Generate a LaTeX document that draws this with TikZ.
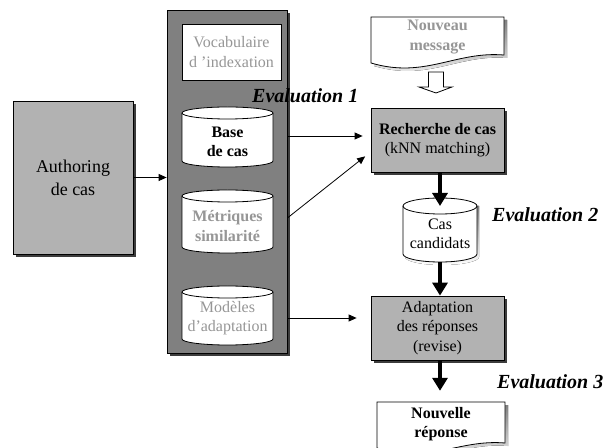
\documentclass[tikz,border=0pt]{standalone}
\usepackage{fontspec}
\setmainfont{Liberation Serif}
\usetikzlibrary{arrows.meta,calc,shadows}

\definecolor{boxgray}{RGB}{178,178,178}
\definecolor{panelgray}{RGB}{128,128,128}
\definecolor{softtext}{RGB}{150,150,150}
\definecolor{shade}{RGB}{60,60,60}

% cylinder outline: #1 centre x, #2 x radius, #3 top, #4 bottom, #5 y radius
\newcommand\dbcylinder[5]{%
  \filldraw[fill=white,line width=0.8pt]
    (#1-#2,#3-#5) -- (#1-#2,#4+#5)
    arc[start angle=180,end angle=360,x radius=#2,y radius=#5]
    -- (#1+#2,#3-#5)
    arc[start angle=0,end angle=180,x radius=#2,y radius=#5] -- cycle;
  \draw[line width=0.8pt] (#1-#2,#3-#5)
    arc[start angle=180,end angle=360,x radius=#2,y radius=#5];
}

\begin{document}
\begin{tikzpicture}[x=1pt,y=1pt,
  boxshadow/.style={drop shadow={shadow xshift=3pt,shadow yshift=-3pt,opacity=1,fill=shade}},
  procbox/.style={draw,line width=0.8pt,fill=boxgray,boxshadow,align=center,
    minimum width=133pt,minimum height=64pt,inner sep=0pt},
  txt/.style={align=center,inner sep=0pt,font=\fontsize{16}{19.5}\selectfont},
  evallabel/.style={anchor=base west,inner sep=0pt,font=\fontsize{20}{24}\selectfont\bfseries\itshape},
  thinarrow/.style={line width=0.8pt,-{Triangle[length=8pt,width=7pt]}},
  thickarrow/.style={line width=3.5pt,-{Triangle[length=13pt,width=15pt]}},
]
\useasboundingbox (0,0) rectangle (610,447);

% authoring block
\node[draw,line width=0.8pt,fill=boxgray,boxshadow,minimum width=120pt,minimum height=153pt,
  align=center,font=\fontsize{18}{23}\selectfont] (auth) at (73,269.5) {Authoring\\de cas};

% knowledge container
\node[draw,line width=0.8pt,fill=panelgray,boxshadow,minimum width=120pt,minimum height=343pt]
  (panel) at (227,265.5) {};

\node[draw,line width=0.8pt,fill=white,minimum width=99pt,minimum height=56pt,txt,
  text=softtext] (vocab) at (231.5,395) {Vocabulaire\\d 'indexation};

\dbcylinder{227.5}{45.5}{340}{280}{6}
\node[txt,font=\fontsize{16}{19.5}\selectfont\bfseries] (base) at (227.5,305) {Base\\de cas};

\dbcylinder{227.5}{45.5}{257}{194}{6}
\node[txt,font=\fontsize{16}{19.5}\selectfont\bfseries,text=softtext] (metr) at (227.5,221) {Métriques\\similarité};

\dbcylinder{227.5}{45.5}{161}{102}{6}
\node[txt,text=softtext] (model) at (227.5,129) {Modèles\\d’adaptation};

% incoming message (document shape)
\fill[shade] (374,427) -- (507,427) -- (507,389)
  .. controls (458,393) and (428,365) .. (374,381) -- cycle;
\filldraw[fill=white,line width=0.8pt] (371,430) -- (504,430) -- (504,392)
  .. controls (455,396) and (425,368) .. (371,384) -- cycle;
\node[txt,font=\fontsize{16}{19.5}\selectfont\bfseries,text=softtext] (msg) at (437.5,410) {Nouveau\\message};

% hollow arrow below the message
\filldraw[fill=white,line width=0.8pt] (428.5,375) -- (443.5,375) -- (443.5,360) -- (452,360)
  -- (436,354) -- (419,360) -- (428.5,360) -- cycle;

% retrieval step
\node[procbox,txt] (rech) at (437.5,307) {\textbf{Recherche de cas}\\(kNN matching)};

% candidate cases
\fill[shade] (405,241) -- (405,190) arc[start angle=180,end angle=360,x radius=37,y radius=8]
  -- (479,241) -- cycle;
\dbcylinder{440}{37}{249}{185}{8}
\node[txt] (cas) at (440,213) {Cas\\candidats};
\coordinate (castop) at (440,241);
\coordinate (casbot) at (440,185);

% adaptation step
\node[procbox,txt] (adapt) at (437.5,119) {Adaptation\\des réponses\\(revise)};

% new answer (document shape, runs past the lower edge)
\fill[shade] (380,42) -- (508,42) -- (508,1)
  .. controls (461,5) and (431,-21) .. (380,-4) -- cycle;
\filldraw[fill=white,line width=0.8pt] (377,45) -- (505,45) -- (505,4)
  .. controls (458,8) and (428,-18) .. (377,-1) -- cycle;
\node[txt,font=\fontsize{16}{19.5}\selectfont\bfseries] (rep) at (441,23) {Nouvelle\\réponse};

% evaluation labels
\node[evallabel] (eval1) at (252,344) {Evaluation 1};
\node[evallabel] (eval2) at (492,225) {Evaluation 2};
\node[evallabel] (eval3) at (497,59) {Evaluation 3};

% connectors
\draw[thinarrow] (auth.east) -- (auth.east -| panel.west);
\draw[thinarrow,shorten >=8pt] (panel.east |- 0,311) -- (rech.west |- 0,311);
\draw[thinarrow,shorten >=7pt] (panel.east |- 0,229) -- ($(rech.west)+(0,-12)$);
\draw[thinarrow,shorten >=14pt] (panel.east |- 0,129) -- (adapt.west |- 0,129);
\draw[thickarrow] (rech.south -| castop) -- (castop);
\draw[thickarrow] (casbot) -- (adapt.north -| casbot);
\draw[thickarrow,shorten >=16pt] (adapt.south -| casbot) -- (rep.north -| casbot);
\end{tikzpicture}
\end{document}
